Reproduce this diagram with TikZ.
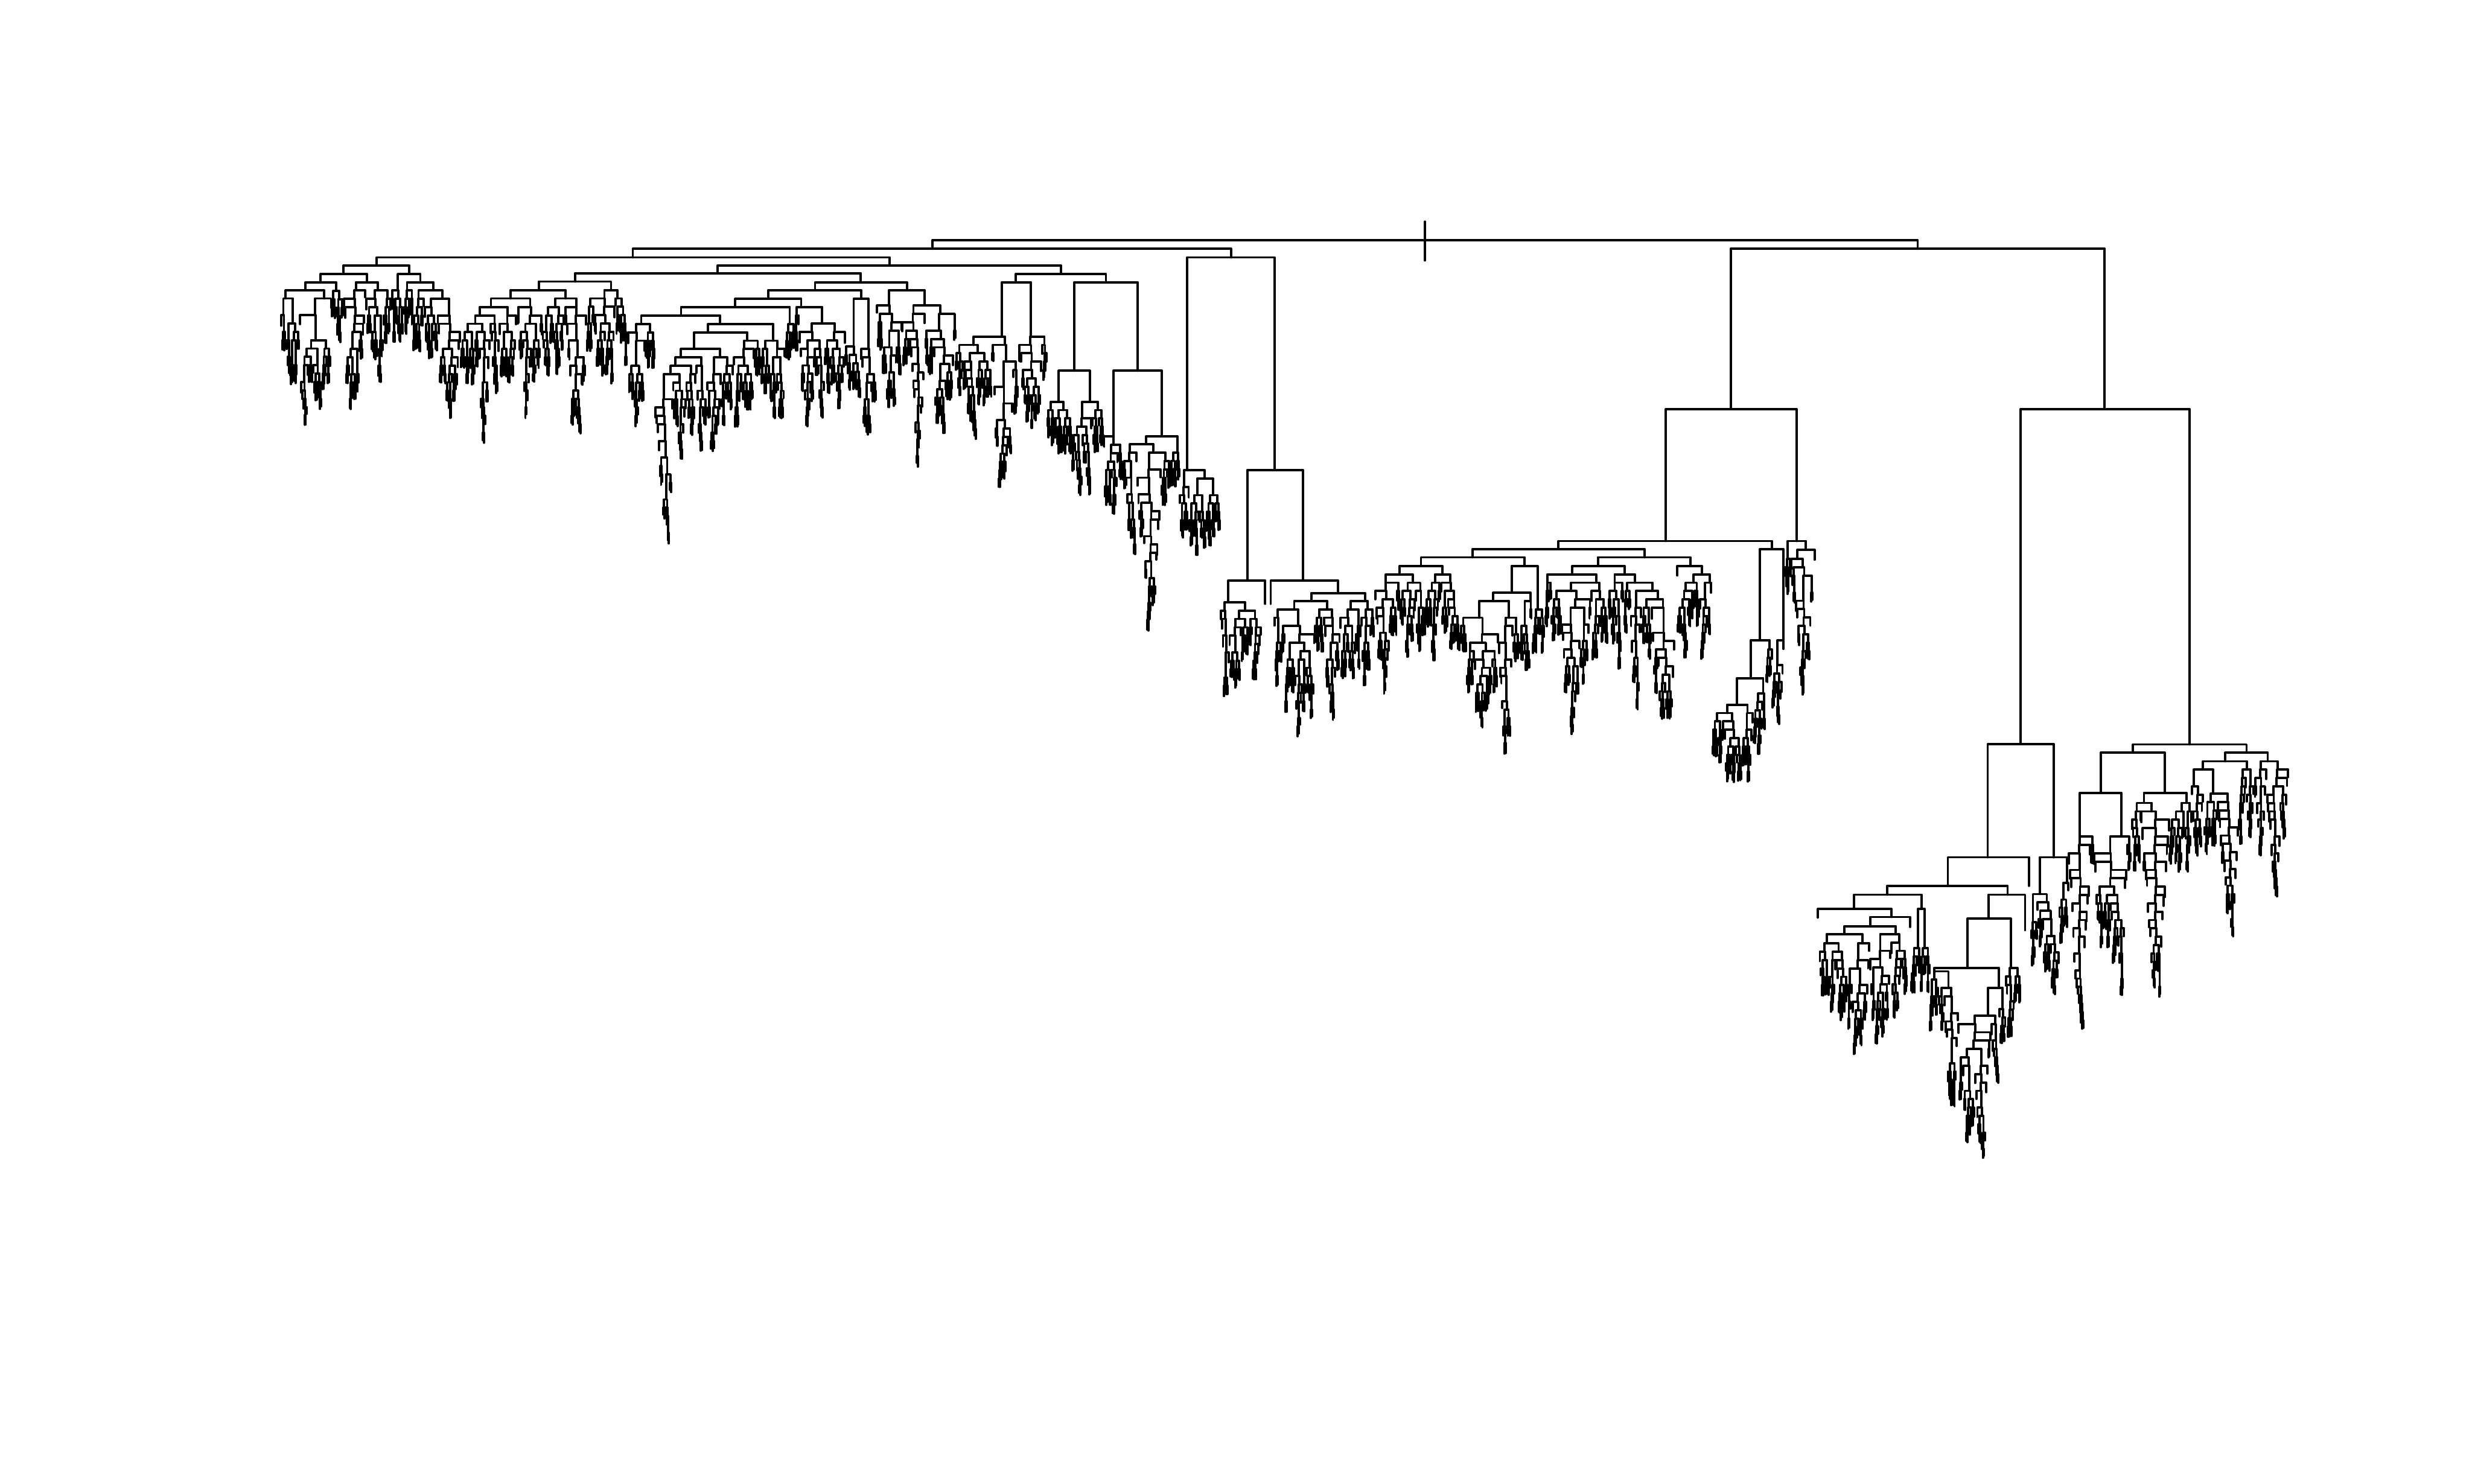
\documentclass[tikz,border=0pt]{standalone}
\usepackage{tikz}
\definecolor{treeink}{RGB}{0,0,0}

% dendrogram settings (units: pixels of the 1568 x 941 frame)
\def\dggap{0.7}
\def\dgstep{5.3}
\def\dgchain{0.45}

\tikzset{branch/.style={draw=treeink, line width=1.6pt, line cap=round, line join=round}}

% random sub-tree below a merge at (x,y), leaves from left edge #3, #4 leaves
\newcommand\dgin[4]{%
  \begingroup
  \edef\dgx{#1}\edef\dgy{#2}\edef\dga{#3}\edef\dgn{#4}%
  \pgfmathsetmacro\dgt{2*(\dgx-\dga)/\dggap}%
  \pgfmathtruncatemacro\dgkmin{max(1,floor(\dgt-\dgn)+1)}%
  \pgfmathtruncatemacro\dgkmax{min(\dgn-1,ceil(\dgt)-1)}%
  \ifnum\dgkmin>\dgkmax\relax
    \def\dgkmin{1}\pgfmathtruncatemacro\dgkmax{\dgn-1}%
  \fi
  \pgfmathsetmacro\dgu{rnd}%
  \ifnum\dgn>30\relax \def\dgu{1}\fi
  \ifdim\dgu pt<\dgchain pt\relax
    \pgfmathtruncatemacro\dgs{floor(rnd*rnd*0.12*(\dgkmax-\dgkmin+1))}%
    \pgfmathsetmacro\dgv{rnd}%
    \ifdim\dgv pt<0.5pt\relax
      \pgfmathtruncatemacro\dgk{\dgkmin+\dgs}%
    \else
      \pgfmathtruncatemacro\dgk{\dgkmax-\dgs}%
    \fi
  \else
    \pgfmathtruncatemacro\dgk{round(\dgkmin+(\dgkmax-\dgkmin)*(0.15+0.7*rnd))}%
  \fi
  \pgfmathtruncatemacro\dgm{\dgn-\dgk}%
  \pgfmathsetmacro\dgxl{\dga+\dgk*\dggap/2}%
  \pgfmathsetmacro\dgar{\dga+\dgk*\dggap}%
  \pgfmathsetmacro\dgxr{\dgar+\dgm*\dggap/2}%
  \pgfmathsetmacro\dgw{rnd}%
  \ifnum\dgk=1\relax
    \pgfmathsetmacro\dgyl{\dgy+\dgstep*(0.8+0.5*\dgw)}%
  \else
    \pgfmathsetmacro\dgyl{\dgy+\dgstep*(1+floor(2.2*\dgw*\dgw*\dgw*\dgw))}%
  \fi
  \pgfmathsetmacro\dgw{rnd}%
  \ifnum\dgm=1\relax
    \pgfmathsetmacro\dgyr{\dgy+\dgstep*(0.8+0.5*\dgw)}%
  \else
    \pgfmathsetmacro\dgyr{\dgy+\dgstep*(1+floor(2.2*\dgw*\dgw*\dgw*\dgw))}%
  \fi
  \draw[branch] (\dgxl,\dgyl) -- (\dgxl,\dgy) -- (\dgxr,\dgy) -- (\dgxr,\dgyr);%
  \ifnum\dgk>1\relax \dgin{\dgxl}{\dgyl}{\dga}{\dgk}\fi
  \ifnum\dgm>1\relax \dgin{\dgxr}{\dgyr}{\dgar}{\dgm}\fi
  \endgroup}

% cluster: name, x, y of its merge, leaves from #4 to #5
\newcommand\dgclu[5]{%
  \coordinate (#1) at (#2,#3);%
  \pgfmathtruncatemacro\dgcn{max(1,round((#5-#4)/\dggap))}%
  \ifnum\dgcn>1\relax \dgin{#2}{#3}{#4}{\dgcn}\fi}
\newcommand\dgleaf[3]{\coordinate (#1) at (#2,#3);}
\newcommand\dgjoin[3]{\draw[branch] (#2) |- (#1) -| (#3);}

\begin{document}
\begin{tikzpicture}[x=0.03827cm, y=-0.03827cm]
    \useasboundingbox (0,0) rectangle (1568,941);
    \pgfmathsetseed{4217}

    % Upper merges
    \coordinate (rt) at (903.8,152.4);
    \coordinate (lf) at (591.3,157.7);
    \coordinate (rg) at (1216.4,157.7);
    \coordinate (l1) at (401.4,163.3);
    \coordinate (l2) at (780.8,163.3);
    \coordinate (a0) at (239,168.4);
    \coordinate (b0) at (564.4,168.4);
    \coordinate (a1) at (217.9,173.8);
    \coordinate (a2) at (259.6,173.8);
    \coordinate (a11) at (203.4,179);
    \coordinate (a12) at (232.8,179);
    \coordinate (a111) at (193.8,184.2);
    \coordinate (a22) at (266.6,179);
    \coordinate (b1) at (455.3,173.3);
    \coordinate (b2) at (672.9,173.8);
    \coordinate (b11) at (364.7,178.6);
    \coordinate (b111) at (341.8,184);
    \coordinate (b1111) at (323.8,189.3);
    \coordinate (b1112) at (358.7,189.3);
    \coordinate (b112) at (387.6,184);
    \coordinate (b12) at (546,179.2);
    \coordinate (b121) at (517,184.05);
    \coordinate (b122) at (575.4,184.05);
    \coordinate (b1211) at (487.2,189.5);
    \coordinate (b12111) at (466.4,194.7);
    \coordinate (b1212) at (546.2,189.5);
    \coordinate (b21) at (644.4,179);
    \coordinate (b22) at (701.5,179);
    \coordinate (b221) at (681.5,235.2);
    \coordinate (b222) at (721.5,235.2);
    \coordinate (b2221) at (736.9,276.8);
    \coordinate (c2) at (808.5,298.2);
    \coordinate (c21) at (791.2,368.3);
    \coordinate (c22) at (826.5,368.3);
    \coordinate (c221) at (848.8,376.2);
    \coordinate (r1) at (1098,259.6);
    \coordinate (f0) at (1056.5,343.2);
    \coordinate (f1) at (988.4,348.2);
    \coordinate (f11) at (934,353.5);
    \coordinate (f111) at (901.3,359);
    \coordinate (f1111) at (887.7,364.3);
    \coordinate (f1112) at (915,364.3);
    \coordinate (f112) at (967,359);
    \coordinate (f1121) at (958.8,376);
    \coordinate (f12) at (1043,353.5);
    \coordinate (f121) at (1013.6,359);
    \coordinate (f1211) at (997.1,364.3);
    \coordinate (f1212) at (1030.5,364.3);
    \coordinate (f122) at (1072.1,359);
    \coordinate (f1221) at (1079.5,364.3);
    \coordinate (f2) at (1123.9,348.2);
    \coordinate (f21) at (1116.4,406);
    \coordinate (f211) at (1110.5,430.2);
    \coordinate (g0) at (1139.6,343.2);
    \coordinate (g1) at (1145.5,348.8);
    \coordinate (r2) at (1335,259.6);
    \coordinate (h0) at (1281.6,472);
    \coordinate (h1) at (1260.8,543.8);
    \coordinate (h11) at (1235.5,561.9);
    \coordinate (h111) at (1197,567.5);
    \coordinate (h1111) at (1175.9,576.5);
    \coordinate (h11112) at (1199.7,581.7);
    \coordinate (h111121) at (1186.2,587.5);
    \coordinate (h1111211) at (1170,592.5);
    \coordinate (h1112) at (1218.9,576.5);
    \coordinate (h112) at (1273.4,567.5);
    \coordinate (h1121) at (1261.3,582.7);
    \coordinate (h11211) at (1248,614);
    \coordinate (h112112) at (1268,626.5);
    \coordinate (h2) at (1302.7,543.8);
    \coordinate (h21) at (1293.8,567.1);
    \coordinate (i0) at (1388.9,472.2);
    \coordinate (i1) at (1352.9,477.5);
    \coordinate (i11) at (1332.5,502.9);
    \coordinate (i12) at (1373.1,502.9);
    \coordinate (i121) at (1359.9,509.3);
    \coordinate (i122) at (1386.8,509.3);
    \coordinate (i2) at (1425,477.5);
    \coordinate (i21) at (1411.5,482.9);
    \coordinate (i211) at (1397.3,488.2);

    % Left clusters
    \dgclu{kA1}{181.2}{189.3}{178}{190}
    \dgclu{kA2}{205.6}{189.3}{190}{210}
    \dgclu{kA3}{213.1}{184.5}{210}{218}
    \dgclu{kA4}{225.7}{184.2}{218}{232}
    \dgclu{kA5}{239.7}{184.2}{232}{248}
    \dgclu{kA6}{252.3}{184.2}{248}{256}
    \dgclu{kA7}{258.2}{184.2}{256}{262}
    \dgclu{kA8}{274.9}{184.2}{262}{292}
    \def\dgchain{0.55}
    \dgclu{kB1}{311.4}{194.8}{292}{328}
    \dgclu{kB2}{336.3}{194.8}{328}{344}
    \dgclu{kB3}{352.2}{194.8}{344}{358}
    \dgclu{kB4}{365.6}{194.8}{358}{372}
    \dgclu{kB5}{383.4}{189.3}{372}{390}
    \dgclu{kB6}{391.7}{189.3}{390}{398}
    \dgclu{kB7}{432}{200.2}{398}{498}
    \dgclu{kB8}{500.9}{205.5}{498}{504}
    \dgclu{kB9}{508.2}{194.7}{504}{536}
    \dgclu{kB10}{541.5}{219.8}{536}{546}
    \dgclu{kB11}{550.9}{221.4}{546}{556}
    \dgclu{kB12}{563.9}{193.8}{556}{572}
    \dgclu{kB13}{586.4}{193.8}{572}{606}
    \dgclu{kB14}{635.5}{213.5}{606}{646}
    \dgclu{kB15}{653.9}{213.5}{646}{664}
    \dgclu{kB16}{671.5}{254.8}{664}{680}
    \dgclu{kB17}{691.3}{254.8}{680}{700}
    \dgclu{kB18}{706.2}{276.8}{700}{712}
    \dgclu{kB19}{726.9}{281.8}{712}{742}
    \dgclu{kB20}{746.9}{287}{742}{748}
    \def\dgchain{0.5}
    \dgclu{kC1}{753.1}{298.2}{748}{774}
    \dgclu{kC2}{779.1}{382}{774}{800}
    \dgleaf{kC3}{802.5}{383}
    \dgleaf{kC4}{806}{383}
    \dgclu{kC5}{831.7}{381.2}{808}{850}
    \dgclu{kC6}{865.8}{381.2}{850}{872}

    % Middle clusters
    \dgclu{kF1}{879}{369.6}{872}{888}
    \dgclu{kF2}{896}{369.6}{888}{904}
    \dgclu{kF3}{910.3}{369.6}{904}{914}
    \dgclu{kF4}{919.8}{369.6}{914}{926}
    \dgclu{kF5}{947.1}{381.2}{926}{964}
    \dgclu{kF6}{970.8}{381.2}{964}{972}
    \dgclu{kF7}{975.3}{386.5}{972}{980}
    \dgclu{kF8}{981.5}{369.6}{980}{984}
    \dgclu{kF9}{1012.6}{369.6}{984}{1020}
    \dgclu{kF10}{1024.2}{369.6}{1020}{1030}
    \dgclu{kF11}{1037.1}{369.6}{1030}{1062}
    \dgleaf{kF12}{1063.9}{365}
    \dgclu{kF13}{1074.2}{369.6}{1064}{1078}
    \dgclu{kF14}{1084.6}{369.6}{1078}{1086}
    \dgclu{kF15}{1101.7}{447}{1086}{1112}
    \dgclu{kF16}{1118.4}{440}{1112}{1120}
    \dgclu{kF17}{1122.4}{412}{1120}{1124}
    \dgclu{kF18}{1131.1}{406}{1124}{1132}
    \def\dgchain{0.75}
    \dgclu{kG1}{1133.9}{354.6}{1132}{1136}
    \dgclu{kG2}{1140}{354.6}{1136}{1150}
    \dgleaf{kG3}{1151}{355}

    % Right clusters
    \def\dgchain{0.55}
    \dgleaf{kH1}{1153}{582}
    \dgclu{kH2}{1158.6}{598.4}{1154}{1172}
    \dgclu{kH3}{1181.3}{598.4}{1172}{1186}
    \dgclu{kH4}{1202.5}{592.5}{1186}{1210}
    \dgleaf{kH5}{1211.5}{588}
    \dgclu{kH6}{1216.5}{601.5}{1212}{1218}
    \dgclu{kH7}{1220.8}{601.5}{1218}{1224}
    \dgclu{kH8}{1226.8}{616.1}{1224}{1242}
    \def\dgchain{0.7}
    \dgclu{kH9}{1261}{644.2}{1242}{1268}
    \def\dgchain{0.55}
    \dgclu{kH10}{1270.2}{640}{1268}{1272}
    \dgclu{kH11}{1275.4}{614}{1272}{1282}
    \dgleaf{kH12}{1284.5}{590}
    \dgleaf{kH13}{1287}{561.9}
    \dgclu{kH14}{1289.5}{585}{1288}{1292}
    \dgclu{kH15}{1298.3}{572.4}{1292}{1306}
    \dgclu{kH16}{1311}{560}{1306}{1312}
    \def\dgchain{0.8}
    \dgclu{kI1}{1319.1}{530.6}{1312}{1328}
    \dgclu{kI2}{1345.6}{530.6}{1328}{1352}
    \dgclu{kI3}{1355.3}{514.7}{1352}{1358}
    \dgclu{kI4}{1364.8}{514.7}{1358}{1376}
    \dgclu{kI5}{1383.8}{514.7}{1376}{1386}
    \dgclu{kI6}{1388.9}{514.7}{1386}{1390}
    \dgclu{kI7}{1391.5}{498.8}{1390}{1398}
    \dgclu{kI8}{1403.8}{503.5}{1398}{1420}
    \dgclu{kI9}{1425.3}{488.2}{1420}{1430}
    \dgclu{kI10}{1438.4}{482.9}{1430}{1452}

    % Links between merges
    \dgjoin{a111}{kA1}{kA2}
    \dgjoin{a11}{a111}{kA3}
    \dgjoin{a12}{kA4}{kA5}
    \dgjoin{a1}{a11}{a12}
    \dgjoin{a22}{kA7}{kA8}
    \dgjoin{a2}{kA6}{a22}
    \dgjoin{a0}{a1}{a2}
    \dgjoin{b1111}{kB1}{kB2}
    \dgjoin{b1112}{kB3}{kB4}
    \dgjoin{b111}{b1111}{b1112}
    \dgjoin{b112}{kB5}{kB6}
    \dgjoin{b11}{b111}{b112}
    \dgjoin{b12111}{kB7}{kB8}
    \dgjoin{b1211}{b12111}{kB9}
    \dgjoin{b1212}{kB10}{kB11}
    \dgjoin{b121}{b1211}{b1212}
    \dgjoin{b122}{kB12}{kB13}
    \dgjoin{b12}{b121}{b122}
    \dgjoin{b1}{b11}{b12}
    \dgjoin{b21}{kB14}{kB15}
    \dgjoin{b221}{kB16}{kB17}
    \dgjoin{b2221}{kB19}{kB20}
    \dgjoin{b222}{kB18}{b2221}
    \dgjoin{b22}{b221}{b222}
    \dgjoin{b2}{b21}{b22}
    \dgjoin{b0}{b1}{b2}
    \dgjoin{l1}{a0}{b0}
    \dgjoin{c21}{kC2}{kC3}
    \dgjoin{c221}{kC5}{kC6}
    \dgjoin{c22}{kC4}{c221}
    \dgjoin{c2}{c21}{c22}
    \dgjoin{l2}{kC1}{c2}
    \dgjoin{lf}{l1}{l2}
    \dgjoin{f1111}{kF1}{kF2}
    \dgjoin{f1112}{kF3}{kF4}
    \dgjoin{f111}{f1111}{f1112}
    \dgjoin{f1121}{kF5}{kF6}
    \dgjoin{f112}{f1121}{kF7}
    \dgjoin{f11}{f111}{f112}
    \dgjoin{f1211}{kF8}{kF9}
    \dgjoin{f1212}{kF10}{kF11}
    \dgjoin{f121}{f1211}{f1212}
    \dgjoin{f1221}{kF13}{kF14}
    \dgjoin{f122}{kF12}{f1221}
    \dgjoin{f12}{f121}{f122}
    \dgjoin{f1}{f11}{f12}
    \dgjoin{f211}{kF15}{kF16}
    \dgjoin{f21}{f211}{kF17}
    \dgjoin{f2}{f21}{kF18}
    \dgjoin{f0}{f1}{f2}
    \dgjoin{g1}{kG2}{kG3}
    \dgjoin{g0}{kG1}{g1}
    \dgjoin{r1}{f0}{g0}
    \dgjoin{h1111211}{kH2}{kH3}
    \dgjoin{h111121}{h1111211}{kH4}
    \dgjoin{h11112}{h111121}{kH5}
    \dgjoin{h1111}{kH1}{h11112}
    \dgjoin{h1112}{kH6}{kH7}
    \dgjoin{h111}{h1111}{h1112}
    \dgjoin{h112112}{kH9}{kH10}
    \dgjoin{h11211}{kH8}{h112112}
    \dgjoin{h1121}{h11211}{kH11}
    \dgjoin{h112}{h1121}{kH12}
    \dgjoin{h11}{h111}{h112}
    \dgjoin{h1}{h11}{kH13}
    \dgjoin{h21}{kH14}{kH15}
    \dgjoin{h2}{h21}{kH16}
    \dgjoin{h0}{h1}{h2}
    \dgjoin{i11}{kI1}{kI2}
    \dgjoin{i121}{kI3}{kI4}
    \dgjoin{i122}{kI5}{kI6}
    \dgjoin{i12}{i121}{i122}
    \dgjoin{i1}{i11}{i12}
    \dgjoin{i211}{kI7}{kI8}
    \dgjoin{i21}{i211}{kI9}
    \dgjoin{i2}{i21}{kI10}
    \dgjoin{i0}{i1}{i2}
    \dgjoin{r2}{h0}{i0}
    \dgjoin{rg}{r1}{r2}
    \dgjoin{rt}{lf}{rg}

    % Root stem
    \draw[branch] (rt) ++(0,-11.8) -- ++(0,24.6);
\end{tikzpicture}
\end{document}
